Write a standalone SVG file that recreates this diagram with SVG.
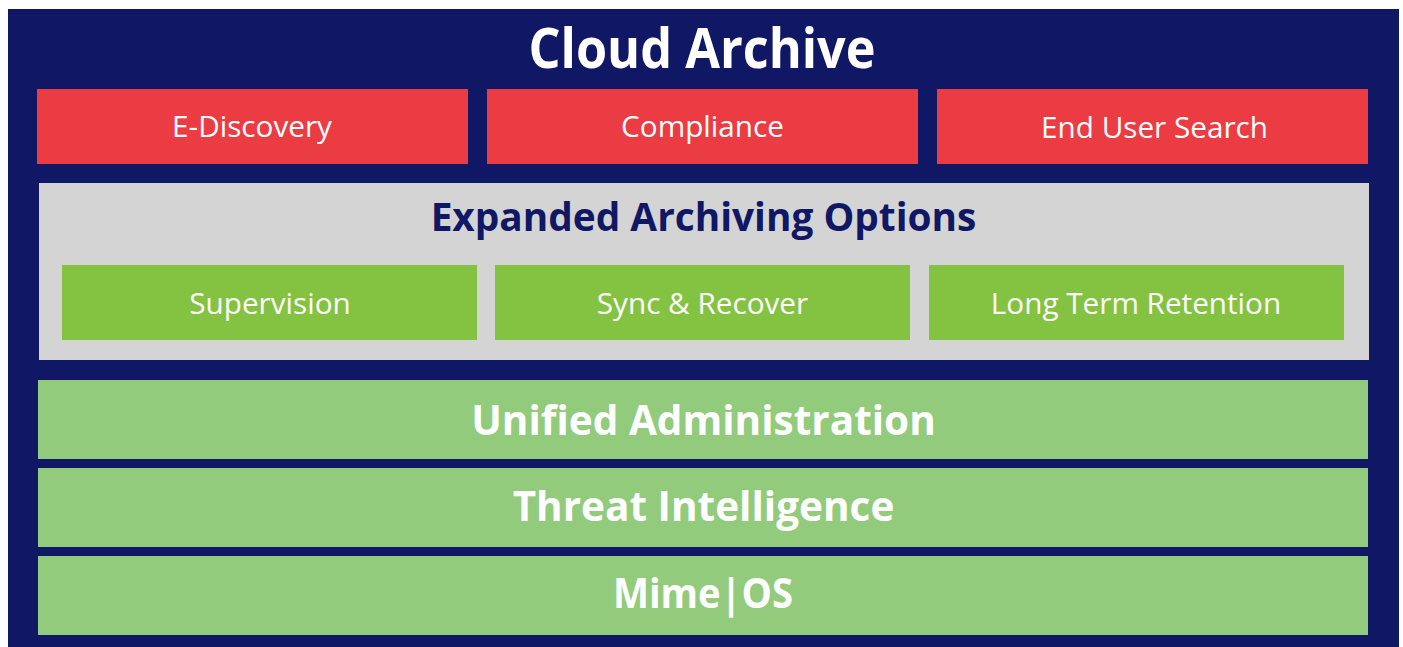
<svg xmlns="http://www.w3.org/2000/svg" width="1403" height="647" viewBox="0 0 1403 647">
<style>
.navy{fill:#101866}
.red{fill:#EC3C43}
.grey{fill:#D3D4D3}
.green{fill:#84C341}
.lgreen{fill:#92CB7C}
text{font-family:"Open Sans","Noto Sans",sans-serif;text-anchor:middle}
.lbl{fill:#FFFFFF;font-size:29.7px;font-weight:400}
.big{fill:#FFFFFF;font-size:40.5px;font-weight:700}
.sub{fill:#101866;font-size:38.8px;font-weight:700}
.title{fill:#FFFFFF;font-size:56px;font-weight:700}
</style>
<rect width="1403" height="647" fill="#FFFFFF"/>
<g id="cloud-archive">
<rect class="navy" x="8" y="9" width="1391" height="638"/>
<text class="title" x="702" y="68" textLength="347" lengthAdjust="spacingAndGlyphs">Cloud Archive</text>
</g>
<g id="e-discovery"><rect class="red" x="37" y="89" width="431" height="75"/><text class="lbl" x="252" y="137">E-Discovery</text></g>
<g id="compliance"><rect class="red" x="487" y="89" width="431" height="75"/><text class="lbl" x="702.5" y="137">Compliance</text></g>
<g id="end-user-search"><rect class="red" x="937" y="89" width="431" height="75"/><text class="lbl" x="1154.5" y="138">End User Search</text></g>
<g id="expanded-archiving-options">
<rect class="grey" x="39" y="183" width="1330" height="177"/>
<text class="sub" x="703.5" y="231">Expanded Archiving Options</text>
</g>
<g id="supervision"><rect class="green" x="62" y="265" width="415" height="75"/><text class="lbl" x="270" y="314">Supervision</text></g>
<g id="sync-recover"><rect class="green" x="495" y="265" width="415" height="75"/><text class="lbl" x="702.5" y="314">Sync &amp; Recover</text></g>
<g id="long-term-retention"><rect class="green" x="929" y="265" width="415" height="75"/><text class="lbl" x="1136" y="314">Long Term Retention</text></g>
<g id="unified-administration"><rect class="lgreen" x="38" y="380" width="1330" height="79"/><text class="big" x="703.5" y="435">Unified Administration</text></g>
<g id="threat-intelligence"><rect class="lgreen" x="38" y="468" width="1330" height="79"/><text class="big" x="703.5" y="521">Threat Intelligence</text></g>
<g id="mime-os"><rect class="lgreen" x="38" y="556" width="1330" height="79"/><text class="big" x="703" y="608" textLength="180" lengthAdjust="spacingAndGlyphs">Mime|OS</text></g>
<g id="connectors"/>
</svg>
